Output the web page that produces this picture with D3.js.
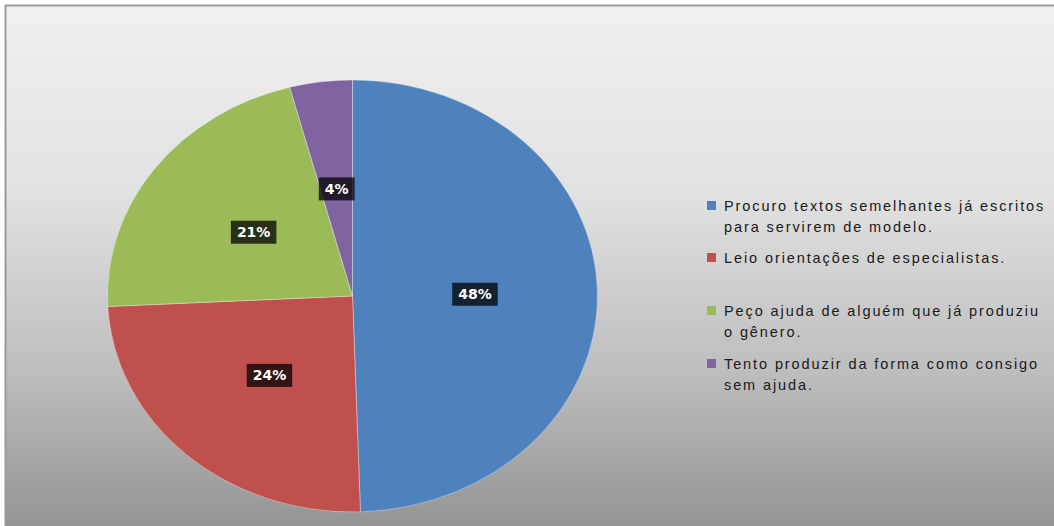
<!DOCTYPE html>
<html><head><meta charset="utf-8">
<script src="https://cdn.jsdelivr.net/npm/d3@7"></script>
<style>html,body{margin:0;padding:0;background:#fff;}svg{display:block;}</style>
</head><body>
<script>
const categories = [
  ["Procuro textos semelhantes já escritos", "para servirem de modelo."],
  ["Leio orientações de especialistas."],
  ["Peço ajuda de alguém que já produziu", "o gênero."],
  ["Tento produzir da forma como consigo", "sem ajuda."]
];
const values = [48, 24, 21, 4];
const valueLabels = ["48%", "24%", "21%", "4%"];
const colors = ["#4F81BD", "#C0504D", "#9BBB59", "#8064A2"];

const W = 1054, H = 526;
const svg = d3.select("body").append("svg").attr("width", W).attr("height", H);
const defs = svg.append("defs");
const grad = defs.append("linearGradient").attr("id", "bg").attr("x1", 0).attr("y1", 0).attr("x2", 0).attr("y2", 1);
grad.append("stop").attr("offset", "0%").attr("stop-color", "#f0f0f0");
grad.append("stop").attr("offset", "35%").attr("stop-color", "#e2e2e2");
grad.append("stop").attr("offset", "70%").attr("stop-color", "#bdbdbd");
grad.append("stop").attr("offset", "100%").attr("stop-color", "#939393");

svg.append("rect").attr("x", 5).attr("y", 5).attr("width", W).attr("height", H).attr("fill", "url(#bg)");
svg.append("line").attr("x1", 5).attr("y1", 5.5).attr("x2", W).attr("y2", 5.5).attr("stroke", "#9a9a9a").attr("stroke-width", 2);
svg.append("line").attr("x1", 5.5).attr("y1", 5).attr("x2", 5.5).attr("y2", H).attr("stroke", "#9a9a9a").attr("stroke-width", 2);

const cx = 352.5, cy = 296, rx = 245, ry = 216;
const sy = ry / rx;
const pie = d3.pie().sort(null).value(d => d)(values);
const arc = d3.arc().innerRadius(0).outerRadius(rx);

const pg = svg.append("g").attr("transform", `translate(${cx},${cy}) scale(1,${sy})`);
pg.selectAll("path").data(pie).enter().append("path")
  .attr("d", arc)
  .attr("fill", (d, i) => colors[i])
  .attr("stroke", "rgba(255,255,255,0.35)")
  .attr("stroke-width", 1)
  .attr("vector-effect", "non-scaling-stroke");

const lg = svg.append("g").attr("transform", `translate(${cx},${cy})`);
pie.forEach((d, i) => {
  const c = arc.centroid(d);
  const x = c[0], y = c[1] * sy;
  const g = lg.append("g").attr("transform", `translate(${x},${y})`);
  const t = g.append("text").text(valueLabels[i])
    .attr("text-anchor", "middle").attr("dy", "0.36em")
    .attr("font-family", "'DejaVu Sans', sans-serif").attr("font-weight", "bold")
    .attr("font-size", 14).attr("fill", "#ffffff");
  const bb = t.node().getBBox();
  g.insert("rect", "text")
    .attr("x", bb.x - 6).attr("y", -11.5).attr("width", bb.width + 12).attr("height", 23)
    .attr("fill", "rgba(0,0,0,0.74)");
});

const legendRows = [206, 258, 311, 364];
const leg = svg.append("g");
categories.forEach((lines, i) => {
  const y = legendRows[i];
  leg.append("rect").attr("x", 707).attr("y", y - 5).attr("width", 9).attr("height", 9).attr("fill", colors[i]);
  lines.forEach((ln, j) => {
    leg.append("text").text(ln)
      .attr("x", 724).attr("y", y + j * 21).attr("dy", "0.35em")
      .attr("font-family", "'Liberation Sans', sans-serif")
      .attr("font-size", 14.5).attr("letter-spacing", 1.9)
      .attr("fill", "#1a1a1a");
  });
});
</script>
</body></html>
